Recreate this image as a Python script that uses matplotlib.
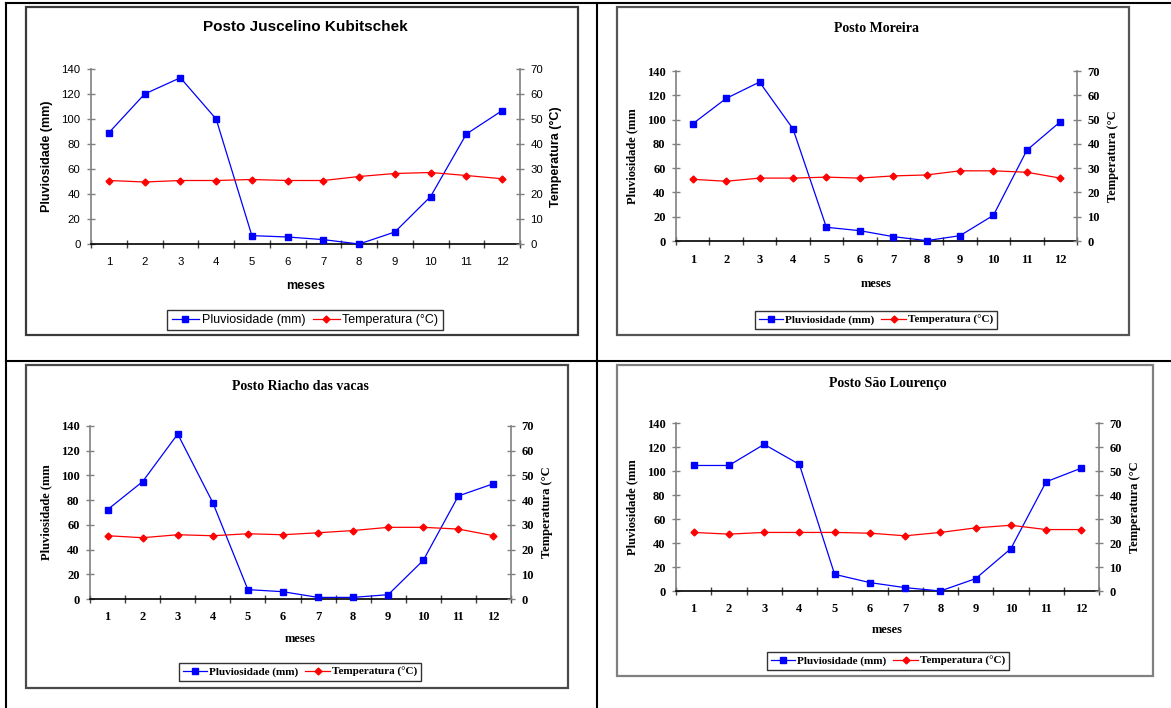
import numpy as np
import matplotlib
matplotlib.use("Agg")
import matplotlib.pyplot as plt
from matplotlib.lines import Line2D
from matplotlib.patches import Rectangle

W, H = 1171, 708

meses = list(range(1, 13))

titulos = ["Posto Juscelino Kubitschek", "Posto Moreira",
           "Posto Riacho das vacas", "Posto São Lourenço"]

chuva_jk = [89, 120, 133, 100, 6.7, 5.6, 3.5, 0, 9.6, 38, 88, 106.7]
temp_jk = [25.4, 24.8, 25.4, 25.4, 25.8, 25.4, 25.4, 27.0, 28.2, 28.6, 27.4, 26.1]

chuva_moreira = [96.5, 117.4, 130.9, 92.4, 11.3, 8.5, 3.6, 0.3, 4.4, 21.2, 74.8, 98.2]
temp_moreira = [25.4, 24.6, 25.9, 25.9, 26.3, 25.9, 26.8, 27.2, 28.9, 28.9, 28.3, 25.9]

chuva_riacho = [72.3, 95, 133.5, 78, 7.6, 5.9, 1.3, 1.3, 3.5, 31.3, 83.4, 93.3]
temp_riacho = [25.6, 24.8, 26.0, 25.6, 26.4, 26.0, 26.8, 27.7, 29.0, 29.0, 28.3, 25.6]

chuva_lourenco = [104.6, 104.6, 122.2, 105.5, 13.9, 7.0, 2.8, 0, 10.3, 35.3, 91, 102.4]
temp_lourenco = [24.4, 23.7, 24.4, 24.4, 24.4, 24.1, 23.0, 24.4, 26.3, 27.4, 25.6, 25.6]

rotulos_y = ["Pluviosidade (mm)", "Pluviosidade (mm", "Pluviosidade (mm", "Pluviosidade (mm"]
rotulos_y2 = ["Temperatura (°C)", "Temperatura (°C", "Temperatura (°C", "Temperatura (°C"]

fig = plt.figure(figsize=(W / 100, H / 100), dpi=100)


def fx(x):
    return x / W


def fy(y):
    return 1 - y / H


def draw_chart(titulo, chuva, temp, ylab, ylab2, box, area, title_y, label_y,
               legend_xy, font, bold_ticks, box_color, title_size):
    # moldura do grafico
    bl, br, bt, bb = box
    fig.patches.append(Rectangle((fx(bl), fy(bb)), (br - bl) / W, (bb - bt) / H,
                                 transform=fig.transFigure, fill=False,
                                 edgecolor=box_color, lw=1.6, zorder=1))
    l, r, t, b = area
    ax = fig.add_axes([fx(l), fy(b), (r - l) / W, (b - t) / H])
    ax.set_facecolor("none")
    ax.plot(meses, chuva, color="#0000FF", lw=0.9, marker="s", ms=4.5, zorder=3,
            clip_on=False)
    ax2 = ax.twinx()
    ax2.plot(meses, temp, color="#FF0000", lw=0.9, marker="D", ms=3.5, clip_on=False)

    ax.set_xlim(0.5, 12.5)
    ax.set_ylim(0, 140)
    ax2.set_ylim(0, 70)
    ax.set_yticks(range(0, 141, 20))
    ax2.set_yticks(range(0, 71, 10))
    ax.set_xticks(np.arange(0.5, 13, 1))
    ax.set_xticklabels([])
    ax.set_xticks(meses, minor=True)
    ax.set_xticklabels([str(m) for m in meses], minor=True)

    weight = "bold" if bold_ticks else "normal"
    tsize = 9 if bold_ticks else 8.2
    for lab in ax.get_xticklabels(minor=True) + ax.get_yticklabels() + ax2.get_yticklabels():
        lab.set_family(font)
        lab.set_fontweight(weight)
        lab.set_fontsize(tsize)

    ax.tick_params(axis="x", which="major", direction="inout", length=6,
                   width=1, color="#404040")
    ax.tick_params(axis="x", which="minor", length=0, pad=9)
    ax.tick_params(axis="y", direction="inout", length=6, width=1,
                   color="#808080", pad=4.5)
    ax2.tick_params(axis="y", direction="inout", length=6, width=1,
                    color="#808080", pad=4.5)

    for s in ["top", "right"]:
        ax.spines[s].set_visible(False)
    for s in ["top", "left", "bottom"]:
        ax2.spines[s].set_visible(False)
    ax.spines["left"].set_color("#808080")
    ax.spines["bottom"].set_color("black")
    ax2.spines["right"].set_color("#808080")
    for sp in [ax.spines["left"], ax.spines["bottom"], ax2.spines["right"]]:
        sp.set_linewidth(1.2)

    cy = (t + b) / 2
    fig.text(fx((bl + br) / 2 if False else (l + r) / 2), fy(title_y), titulo,
             ha="center", va="center", family=font, fontweight="bold",
             fontsize=title_size)
    fig.text(fx(l - 44), fy(cy), ylab, rotation=90, ha="center", va="center",
             family=font, fontweight="bold", fontsize=9)
    fig.text(fx(r + 36), fy(cy), ylab2, rotation=90, ha="center", va="center",
             family=font, fontweight="bold", fontsize=9)
    fig.text(fx((l + r) / 2), fy(label_y), "meses", ha="center", va="center",
             family=font, fontweight="bold", fontsize=9)

    handles = [
        Line2D([], [], color="#0000FF", lw=0.9, marker="s", ms=4.5),
        Line2D([], [], color="#FF0000", lw=0.9, marker="D", ms=3.5),
    ]
    leg = ax.legend(handles, ["Pluviosidade (mm)", "Temperatura (°C)"], ncol=2,
                    loc="center", bbox_to_anchor=(fx(legend_xy[0]), fy(legend_xy[1])),
                    bbox_transform=fig.transFigure, numpoints=1, fancybox=False,
                    frameon=True, handlelength=2.2, handletextpad=0.2,
                    columnspacing=0.6, borderpad=0.35,
                    prop={"family": font, "weight": weight,
                          "size": 8 if bold_ticks else 9})
    leg.get_frame().set_edgecolor("black")
    leg.get_frame().set_linewidth(1.0)


draw_chart(titulos[0], chuva_jk, temp_jk, rotulos_y[0], rotulos_y2[0],
           (26, 578, 7, 335), (91, 520, 69, 244), 27, 286, (305, 320),
           "Liberation Sans", False, "#3a3a3a", 11)
draw_chart(titulos[1], chuva_moreira, temp_moreira, rotulos_y[1], rotulos_y2[1],
           (617, 1129, 7, 335), (676, 1077, 71, 241), 28, 284, (876, 320),
           "Liberation Serif", True, "#555555", 10)
draw_chart(titulos[2], chuva_riacho, temp_riacho, rotulos_y[2], rotulos_y2[2],
           (26, 568, 365, 688), (90, 511, 426, 599), 386, 639, (300, 672),
           "Liberation Serif", True, "#4a4a4a", 10)
draw_chart(titulos[3], chuva_lourenco, temp_lourenco, rotulos_y[3], rotulos_y2[3],
           (617, 1153, 365, 676), (676, 1099, 423, 591), 384, 630, (888, 661),
           "Liberation Serif", True, "#808080", 10)

# linhas da tabela
for x0, y0, x1, y1 in [(6, 3, 1171, 3), (6, 361, 1171, 361), (6, 3, 6, 708),
                       (597, 3, 597, 708)]:
    fig.add_artist(Line2D([fx(x0), fx(x1)], [fy(y0), fy(y1)], color="black",
                          lw=1.5, transform=fig.transFigure))

fig.savefig("out.png", dpi=100)
